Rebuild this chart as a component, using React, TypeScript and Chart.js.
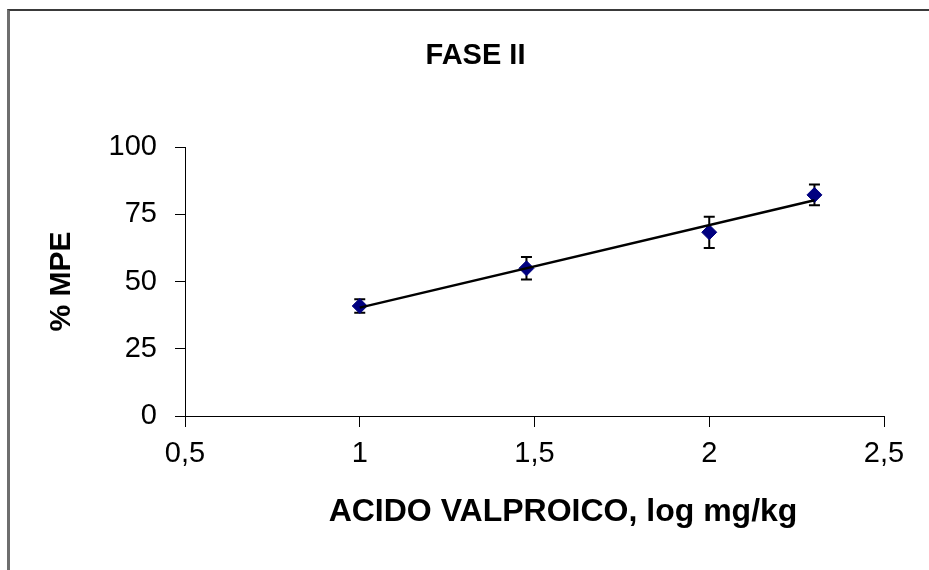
import React, { useEffect, useRef } from "react";
import { Chart, registerables } from "chart.js";

Chart.register(...registerables);

// ---- data ----
const chartTitle = "FASE II";
const xAxisTitle = "ACIDO VALPROICO, log mg/kg";
const yAxisTitle = "% MPE";

const doseLog = [1.0, 1.477, 2.0, 2.301];
const mpeMean = [40.9, 54.9, 68.3, 82.2];
const mpeErr = [2.5, 4.2, 5.8, 3.9];

const trendX = [1.0, 2.301];
const trendY = [40.3, 80.2];

const xTicks = [0.5, 1, 1.5, 2, 2.5];
const yTicks = [0, 25, 50, 75, 100];

const FONT = '"Liberation Sans", Arial, Helvetica, sans-serif';

const errorBarPlugin = {
  id: "errorBars",
  beforeDatasetsDraw(chart: any) {
    const meta = chart.getDatasetMeta(1);
    if (!meta || meta.hidden) return;
    const { ctx, scales } = chart;
    const xs = scales.x;
    const ys = scales.y;
    ctx.save();
    ctx.strokeStyle = "#000000";
    ctx.lineWidth = 2;
    const cap = 5.5;
    doseLog.forEach((xv, i) => {
      const px = xs.getPixelForValue(xv);
      const top = ys.getPixelForValue(mpeMean[i] + mpeErr[i]);
      const bot = ys.getPixelForValue(mpeMean[i] - mpeErr[i]);
      ctx.beginPath();
      ctx.moveTo(px, top);
      ctx.lineTo(px, bot);
      ctx.moveTo(px - cap, top);
      ctx.lineTo(px + cap, top);
      ctx.moveTo(px - cap, bot);
      ctx.lineTo(px + cap, bot);
      ctx.stroke();
    });
    ctx.restore();
  },
};

const textPlugin = {
  id: "freeTitles",
  afterDraw(chart: any) {
    const { ctx } = chart;
    ctx.save();
    ctx.fillStyle = "#000000";
    ctx.textAlign = "center";
    ctx.textBaseline = "alphabetic";
    ctx.font = `bold 29px ${FONT}`;
    ctx.fillText(chartTitle, 475.5, 63.5);
    ctx.font = `bold 32px ${FONT}`;
    ctx.fillText(xAxisTitle, 563, 521);
    ctx.restore();
  },
};

export default function App() {
  const canvasRef = useRef<HTMLCanvasElement | null>(null);

  useEffect(() => {
    const canvas = canvasRef.current;
    if (!canvas) return;
    const chart = new Chart(canvas, {
      type: "scatter",
      data: {
        datasets: [
          {
            type: "line",
            label: "trend",
            data: trendX.map((x, i) => ({ x, y: trendY[i] })),
            borderColor: "#000000",
            borderWidth: 2.5,
            pointRadius: 0,
            fill: false,
            tension: 0,
          },
          {
            label: "MPE",
            data: doseLog.map((x, i) => ({ x, y: mpeMean[i] })),
            pointStyle: "rectRot",
            pointRadius: 7.5,
            pointBackgroundColor: "#000080",
            pointBorderColor: "#000080",
            pointBorderWidth: 1,
            showLine: false,
          },
        ],
      },
      options: {
        animation: false,
        responsive: true,
        maintainAspectRatio: false,
        devicePixelRatio: 1,
        layout: { padding: { top: 147, right: 45, bottom: 0, left: 0 } },
        plugins: {
          legend: { display: false },
          tooltip: { enabled: false },
          title: { display: false },
        },
        scales: {
          x: {
            type: "linear",
            min: 0.5,
            max: 2.5,
            afterBuildTicks: (s: any) => {
              s.ticks = xTicks.map((v) => ({ value: v }));
            },
            afterFit: (s: any) => {
              s.height = 154;
            },
            ticks: {
              color: "#000000",
              font: { family: FONT, size: 29 },
              padding: 10,
              callback: (v: any) => String(v).replace(".", ","),
            },
            grid: {
              drawOnChartArea: false,
              drawTicks: true,
              tickLength: 11,
              color: "#000000",
              lineWidth: 1,
            },
            border: { display: true, color: "#000000", width: 1 },
          },
          y: {
            type: "linear",
            min: 0,
            max: 100,
            afterBuildTicks: (s: any) => {
              s.ticks = yTicks.map((v) => ({ value: v }));
            },
            afterFit: (s: any) => {
              s.width = 185;
            },
            ticks: {
              color: "#000000",
              font: { family: FONT, size: 29 },
              padding: 18,
            },
            grid: {
              drawOnChartArea: false,
              drawTicks: true,
              tickLength: 10,
              color: "#000000",
              lineWidth: 1,
            },
            border: { display: true, color: "#000000", width: 1 },
            title: {
              display: true,
              text: yAxisTitle,
              color: "#000000",
              font: { family: FONT, size: 30, weight: "bold" },
              padding: { top: 44, bottom: 0 },
            },
          },
        },
      },
      plugins: [errorBarPlugin, textPlugin],
    } as any);
    return () => chart.destroy();
  }, []);

  return (
    <div
      style={{
        position: "fixed",
        left: 0,
        top: 0,
        width: 929,
        height: 570,
        overflow: "hidden",
        background: "#ffffff",
      }}
    >
      <div
        style={{
          position: "absolute",
          left: 7,
          top: 9,
          width: 1000,
          height: 1000,
          borderLeft: "3px solid #6e6e6e",
          borderTop: "2px solid #3a3a3a",
        }}
      />
      <div style={{ position: "absolute", left: 0, top: 0, width: 929, height: 570 }}>
        <canvas ref={canvasRef} />
      </div>
    </div>
  );
}
